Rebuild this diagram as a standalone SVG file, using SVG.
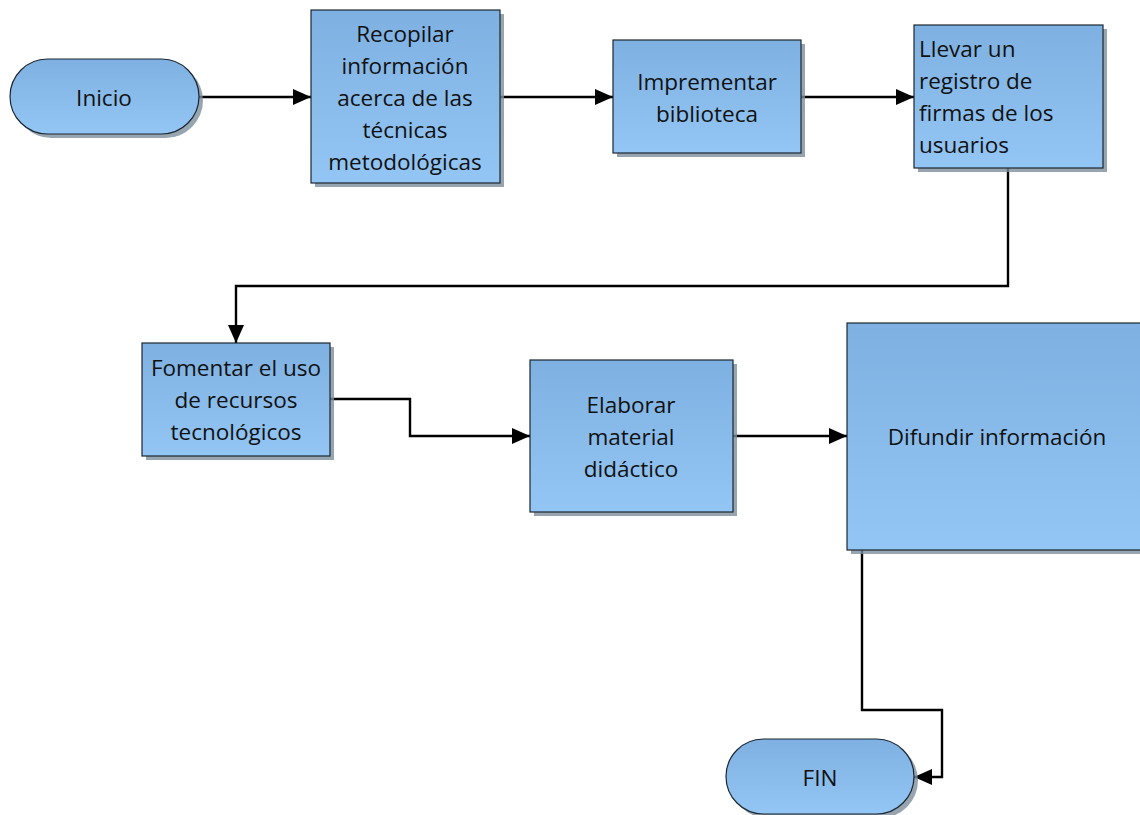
<svg xmlns="http://www.w3.org/2000/svg" width="1140" height="815" viewBox="0 0 1140 815">
<defs>
<linearGradient id="g" x1="0" y1="0" x2="0" y2="1">
<stop offset="0" stop-color="#7eb1e1"/>
<stop offset="1" stop-color="#93c6f4"/>
</linearGradient>
<marker id="ah" markerUnits="userSpaceOnUse" markerWidth="20" markerHeight="18" refX="18" refY="9" orient="auto">
<path d="M0,1 L18,9 L0,17 Z" fill="#000"/>
</marker>
</defs>
<style>
.sh{fill:#7d8e9c;opacity:0.8}
.n{fill:url(#g);stroke:#1c2630;stroke-width:1.2}
.t{font-family:"Open Sans","Liberation Sans",sans-serif;font-size:22.5px;fill:#111;text-anchor:middle;dominant-baseline:central}
.tl{text-anchor:start}
.c{fill:none;stroke:#000;stroke-width:2.4;marker-end:url(#ah)}
</style>
<rect width="1140" height="815" fill="#fff"/>
<g id="connectors">
<path class="c" d="M199,97 H311"/>
<path class="c" d="M500,97 H613"/>
<path class="c" d="M801,97 H914"/>
<path class="c" d="M1008,168 V286 H236 V343"/>
<path class="c" d="M330,399 H410 V436 H530"/>
<path class="c" d="M733,436 H847"/>
<path class="c" d="M862,549 V710 H942 V777 H914"/>
</g>
<g id="inicio">
<rect class="sh" x="14" y="63" width="189" height="75" rx="37.5"/>
<rect class="n" x="10" y="59" width="189" height="75" rx="37.5"/>
<text class="t" x="104" y="97">Inicio</text>
</g>
<g id="recopilar">
<rect class="sh" x="315" y="14" width="189" height="173"/>
<rect class="n" x="311" y="10" width="189" height="173"/>
<text class="t" x="405" y="33">Recopilar</text>
<text class="t" x="405" y="65">información</text>
<text class="t" x="405" y="97">acerca de las</text>
<text class="t" x="405" y="129">técnicas</text>
<text class="t" x="405" y="161">metodológicas</text>
</g>
<g id="imprementar">
<rect class="sh" x="617" y="44" width="188" height="113"/>
<rect class="n" x="613" y="40" width="188" height="113"/>
<text class="t" x="707" y="81">Imprementar</text>
<text class="t" x="707" y="113">biblioteca</text>
</g>
<g id="llevar">
<rect class="sh" x="918" y="29" width="189" height="143"/>
<rect class="n" x="914" y="25" width="189" height="143"/>
<text class="t tl" x="919" y="48">Llevar un</text>
<text class="t tl" x="919" y="80">registro de</text>
<text class="t tl" x="919" y="112">firmas de los</text>
<text class="t tl" x="919" y="144">usuarios</text>
</g>
<g id="fomentar">
<rect class="sh" x="146" y="347" width="188" height="113"/>
<rect class="n" x="142" y="343" width="188" height="113"/>
<text class="t" x="236" y="367">Fomentar el uso</text>
<text class="t" x="236" y="399">de recursos</text>
<text class="t" x="236" y="431">tecnológicos</text>
</g>
<g id="elaborar">
<rect class="sh" x="534" y="364" width="203" height="152"/>
<rect class="n" x="530" y="360" width="203" height="152"/>
<text class="t" x="631" y="404">Elaborar</text>
<text class="t" x="631" y="436">material</text>
<text class="t" x="631" y="468">didáctico</text>
</g>
<g id="difundir">
<rect class="sh" x="851" y="327" width="300" height="227"/>
<rect class="n" x="847" y="323" width="300" height="227"/>
<text class="t" x="997" y="436">Difundir información</text>
</g>
<g id="fin">
<rect class="sh" x="730" y="743" width="188" height="75" rx="37.5"/>
<rect class="n" x="726" y="739" width="188" height="75" rx="37.5"/>
<text class="t" x="820" y="777">FIN</text>
</g>
</svg>
